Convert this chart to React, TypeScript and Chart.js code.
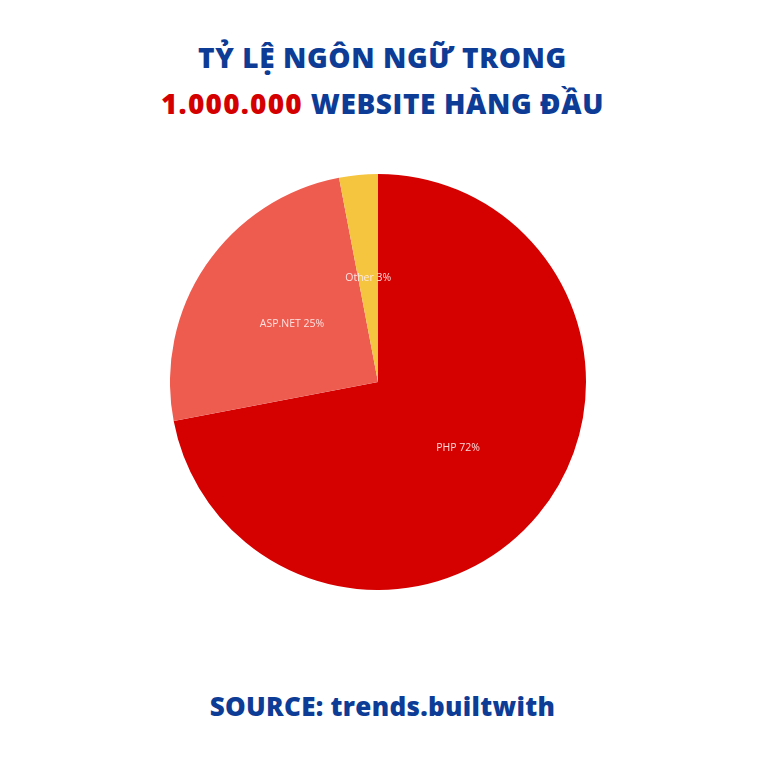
import React, { useEffect, useRef } from 'react'
import { Chart, registerables } from 'chart.js'

Chart.register(...registerables)

const LABELS = ['PHP', 'ASP.NET', 'Other']
const SHARES = [72, 25, 3]
const COLORS = ['#D50000', '#EE5C50', '#F5C540']

const BLUE = '#0D3C96'
const RED = '#D40000'
const FONT = '"Open Sans", "DejaVu Sans", sans-serif'

// draws "Name xx%" at each slice's tooltip point (half radius)
const sliceLabels = {
  id: 'sliceLabels',
  afterDatasetsDraw(chart: Chart) {
    const ctx = chart.ctx
    const meta = chart.getDatasetMeta(0)
    ctx.save()
    ctx.font = `400 10.5px ${FONT}`
    ctx.fillStyle = 'rgba(255,235,235,0.92)'
    ctx.textAlign = 'center'
    ctx.textBaseline = 'middle'
    meta.data.forEach((arc: any, i: number) => {
      const p = arc.tooltipPosition()
      ctx.fillText(`${LABELS[i]} ${SHARES[i]}%`, p.x, p.y)
    })
    ctx.restore()
  },
}

function LanguagePie() {
  const chartRef = useRef<HTMLCanvasElement>(null)
  const chartInstance = useRef<Chart | null>(null)

  useEffect(() => {
    if (!chartRef.current) return
    if (chartInstance.current) chartInstance.current.destroy()

    chartInstance.current = new Chart(chartRef.current, {
      type: 'pie',
      data: {
        labels: LABELS,
        datasets: [{
          data: SHARES,
          backgroundColor: COLORS,
          borderWidth: 0,
        }],
      },
      options: {
        animation: false,
        responsive: true,
        maintainAspectRatio: false,
        layout: { padding: 0 },
        plugins: { legend: { display: false }, tooltip: { enabled: false } },
      },
      plugins: [sliceLabels],
    })

    return () => chartInstance.current?.destroy()
  }, [])

  return <canvas ref={chartRef} />
}

export default function App() {
  return (
    <div style={{ position: 'fixed', left: 0, top: 0, width: 765, height: 765, background: '#fff', fontFamily: FONT }}>
      <div style={{ position: 'absolute', top: 34, left: 0, width: 765, textAlign: 'center', color: BLUE, fontWeight: 800, fontSize: 28, lineHeight: '46px', letterSpacing: 0.6 }}>
        <div>TỶ LỆ NGÔN NGỮ TRONG</div>
        <div><span style={{ color: RED, letterSpacing: 1.2 }}>1.000.000</span> WEBSITE HÀNG ĐẦU</div>
      </div>

      <div style={{ position: 'absolute', left: 170, top: 174, width: 416, height: 416 }}>
        <LanguagePie />
      </div>

      <div style={{ position: 'absolute', top: 687, left: 0, width: 765, textAlign: 'center', color: BLUE, fontWeight: 800, fontSize: 26, lineHeight: '38px', letterSpacing: 0.3 }}>
        SOURCE: trends.builtwith
      </div>
    </div>
  )
}
